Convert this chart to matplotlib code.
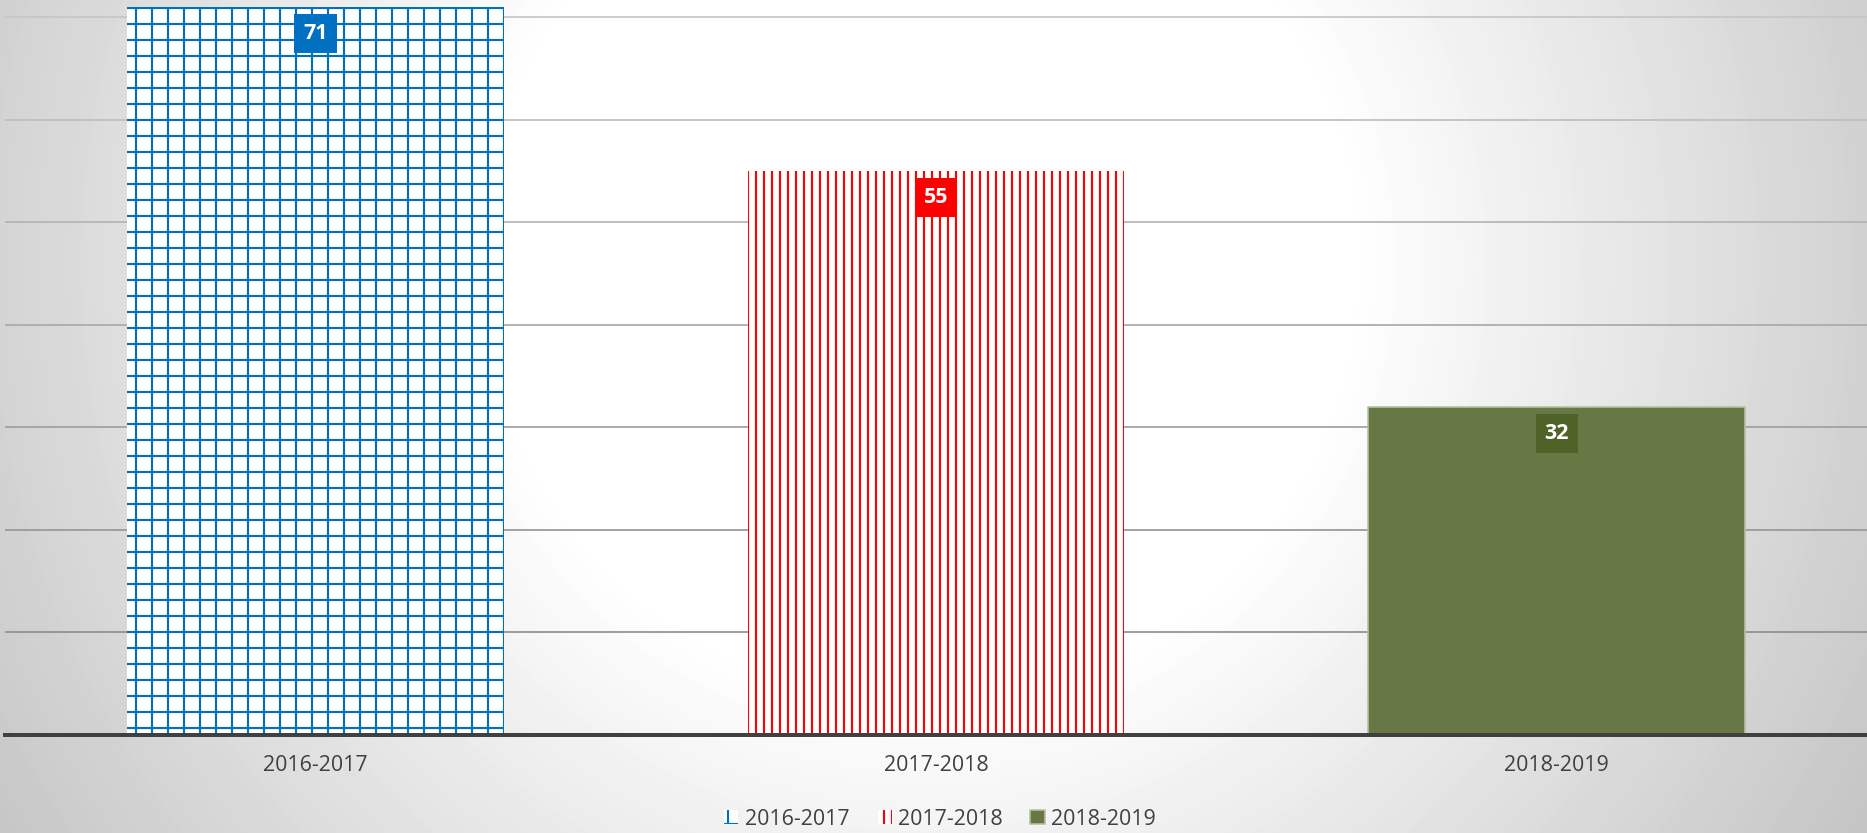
import numpy as np
import matplotlib
matplotlib.use('Agg')
import matplotlib.pyplot as plt

categories = ['2016-2017', '2017-2018', '2018-2019']
values = [71, 55, 32]
legend_labels = ['2016-2017', '2017-2018', '2018-2019']
label_colors = ['#0070c0', '#ff0000', '#4f6228']

plt.rcParams['font.family'] = ['Open Sans', 'DejaVu Sans']
plt.rcParams['hatch.linewidth'] = 1.6

W, H, DPI = 1867, 833, 96
fig = plt.figure(figsize=(W / DPI, H / DPI), dpi=DPI)

# background radial gradient (white centre, grey edges)
bg = fig.add_axes([0, 0, 1, 1], zorder=-10)
yy, xx = np.mgrid[0:H, 0:W]
cx, cy = 920.0, 264.0
r = np.hypot(xx - cx, yy - cy)
r0, r1 = 430.0, 983.0
t = np.clip((r - r0) / (r1 - r0), 0, 1.3)
v = np.clip(1 - 0.19 * t, 0.765, 1)
bg.imshow(v, cmap='gray', vmin=0, vmax=1, extent=[0, 1, 0, 1], aspect='auto',
          origin='upper', interpolation='bilinear')
bg.axis('off')

ax = fig.add_axes([5 / W, (H - 735) / H, 1 - 5 / W, 735 / H])
ax.patch.set_alpha(0)
x = np.arange(len(categories))
styles = [
    dict(facecolor='white', edgecolor='#0070c0', hatch='+', linewidth=0),
    dict(facecolor='white', edgecolor='#ff0000', hatch='||', linewidth=0),
    dict(facecolor='#677845', edgecolor='#b7c0a4', linewidth=1.2),
]
for i in range(len(categories)):
    ax.bar(x[i], values[i], width=0.607, label=legend_labels[i], zorder=2, **styles[i])

for i in range(len(categories)):
    ax.annotate(str(values[i]), xy=(x[i], values[i]), xytext=(0, -20), textcoords='offset points',
                ha='center', va='center', color='white', fontsize=16, fontweight='bold', zorder=5,
                bbox=dict(boxstyle='square,pad=0.42', facecolor=label_colors[i], edgecolor='none'))

ax.set_xlim(-0.5, 2.5)
ax.set_ylim(0, 71.7)
ax.set_yticks(np.arange(0, 71, 10))
ax.yaxis.grid(True, color='#a8a8a8', linewidth=1.3)
ax.set_axisbelow(True)
gcols = ['#8c8c8c', '#909090', '#989898', '#a0a0a0', '#aaaaaa', '#b4b4b4', '#bebebe', '#c6c6c6']
for gl, c in zip(ax.get_ygridlines(), gcols):
    gl.set_color(c)
ax.tick_params(axis='y', length=0, labelleft=False)
ax.set_xticks(x)
ax.set_xticklabels(categories)
ax.tick_params(axis='x', length=0, pad=15, labelsize=16, labelcolor='#404040')
for s in ['left', 'right', 'top']:
    ax.spines[s].set_visible(False)
ax.spines['bottom'].set_color('#404040')
ax.spines['bottom'].set_linewidth(3)
ax.spines['bottom'].set_zorder(3)

ax.legend(loc='center', bbox_to_anchor=(0.5035, 0.0168), bbox_transform=fig.transFigure,
          ncol=3, frameon=False, fontsize=16, handlelength=0.67, handleheight=0.67,
          handletextpad=0.3, columnspacing=1.3, labelcolor='#404040')

fig.savefig('out.png', dpi=DPI)
